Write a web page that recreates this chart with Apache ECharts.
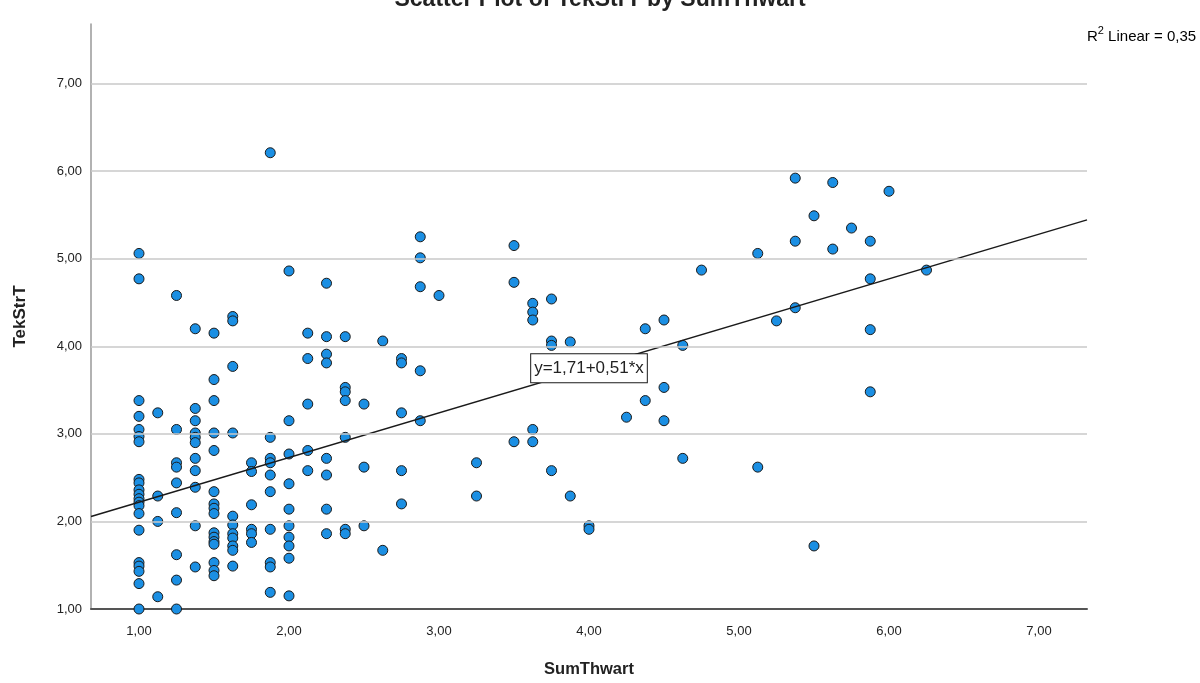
<!DOCTYPE html>
<html>
<head>
<meta charset="utf-8">
<script src="https://cdn.jsdelivr.net/npm/echarts@6/dist/echarts.min.js"></script>
<style>
html,body{margin:0;padding:0;background:#fff;}
#chart{width:1200px;height:683px;}
</style>
</head>
<body>
<div id="chart"></div>
<script>
// SumThwart levels and TekStrT values observed at each level
const sumThwartLevels = [1.00, 1.125, 1.25, 1.375, 1.5, 1.625, 1.75, 1.875, 2.0, 2.125, 2.25, 2.375, 2.5, 2.625, 2.75, 2.875, 3.0, 3.25, 3.5, 3.625, 3.75, 3.875, 4.0, 4.25, 4.375, 4.5, 4.625, 4.75, 5.125, 5.25, 5.375, 5.5, 5.625, 5.75, 5.875, 6.0, 6.25];
const tekStrTByLevel = [
  [5.06, 4.77, 3.38, 3.20, 3.05, 2.97, 2.91, 2.48, 2.44, 2.36, 2.31, 2.26, 2.22, 2.18, 2.09, 1.90, 1.53, 1.49, 1.43, 1.29, 1.00],
  [3.24, 2.29, 2.00, 1.14],
  [4.58, 3.05, 2.67, 2.62, 2.44, 2.10, 1.62, 1.33, 1.00],
  [4.20, 3.29, 3.15, 3.01, 2.96, 2.90, 2.72, 2.58, 2.39, 1.95, 1.48],
  [4.15, 3.62, 3.38, 3.01, 2.81, 2.34, 2.20, 2.15, 2.09, 1.87, 1.82, 1.77, 1.74, 1.53, 1.44, 1.38],
  [4.34, 4.29, 3.77, 3.01, 2.06, 1.96, 1.86, 1.81, 1.72, 1.67, 1.49],
  [2.67, 2.57, 2.19, 1.91, 1.86, 1.76],
  [6.21, 2.96, 2.72, 2.67, 2.53, 2.34, 1.91, 1.53, 1.48, 1.19],
  [4.86, 3.15, 2.77, 2.43, 2.14, 1.95, 1.82, 1.72, 1.58, 1.15],
  [4.15, 3.86, 3.34, 2.81, 2.58],
  [4.72, 4.11, 3.91, 3.81, 2.72, 2.53, 2.14, 1.86],
  [4.11, 3.53, 3.48, 3.38, 2.96, 1.91, 1.86],
  [3.34, 2.62, 1.95],
  [4.06, 1.67],
  [3.86, 3.81, 3.24, 2.58, 2.20],
  [5.25, 5.01, 4.68, 3.72, 3.15],
  [4.58],
  [2.67, 2.29],
  [5.15, 4.73, 2.91],
  [4.49, 4.39, 4.30, 3.05, 2.91],
  [4.54, 4.06, 4.01, 2.58],
  [4.05, 2.29],
  [1.95, 1.91],
  [3.19],
  [4.20, 3.38],
  [4.30, 3.53, 3.15],
  [4.01, 2.72],
  [4.87],
  [5.06, 2.62],
  [4.29],
  [5.92, 5.20, 4.44],
  [5.49, 1.72],
  [5.87, 5.11],
  [5.35],
  [5.20, 4.77, 4.19, 3.48],
  [5.77],
  [4.87]
];
// Fit line coefficients (from the chart's annotation)
const fitIntercept = 1.71;
const fitSlope = 0.51;
const fitLabelX = 4.0;
const rSquared = '0,35';
// Axis ranges and gridline ticks
const xRange = [0.68, 7.32];
const yRange = [1.0, 7.68];
const yGridTicks = [2, 3, 4, 5, 6, 7];

const points = [];
sumThwartLevels.forEach((x, i) => tekStrTByLevel[i].forEach(y => points.push([x, y])));
const fitLine = xRange.map(x => [x, fitIntercept + fitSlope * x]);

const fmt = v => (Math.abs(v - Math.round(v)) < 1e-6) ? v.toFixed(2).replace('.', ',') : '';
const FONT = '"Liberation Sans", Arial, sans-serif';

const chart = echarts.init(document.getElementById('chart'), null, {renderer: 'canvas'});
chart.setOption({
  animation: false,
  backgroundColor: '#ffffff',
  title: {
    text: 'Scatter Plot of TekStrT by SumThwart',
    left: 'center',
    top: -17,
    textStyle: {fontFamily: FONT, fontSize: 23, fontWeight: 'bold', color: '#222'}
  },
  graphic: [{
    type: 'text',
    left: 1087,
    top: 25,
    style: {
      text: '{r|R}{s|2}{r| Linear = }{r|' + rSquared + '}',
      rich: {
        r: {fontFamily: FONT, fontSize: 15, color: '#222', verticalAlign: 'bottom', lineHeight: 19},
        s: {fontFamily: FONT, fontSize: 11, color: '#222', verticalAlign: 'top', lineHeight: 19}
      }
    }
  }],
  grid: {left: 91, right: 113, top: 24, bottom: 73, containLabel: false},
  xAxis: {
    type: 'value',
    min: xRange[0],
    max: xRange[1],
    name: 'SumThwart',
    nameLocation: 'middle',
    nameGap: 52,
    nameTextStyle: {fontFamily: FONT, fontSize: 16.5, fontWeight: 'bold', color: '#222'},
    axisLine: {show: true, lineStyle: {color: '#555', width: 2}},
    axisTick: {show: false},
    splitLine: {show: false},
    axisLabel: {formatter: fmt, fontFamily: FONT, fontSize: 13, color: '#222', margin: 16, showMinLabel: false, showMaxLabel: false}
  },
  yAxis: {
    type: 'value',
    min: yRange[0],
    max: yRange[1],
    interval: 1,
    name: 'TekStrT',
    nameLocation: 'middle',
    nameGap: 62,
    nameTextStyle: {fontFamily: FONT, fontSize: 17, fontWeight: 'bold', color: '#222'},
    axisLine: {show: true, lineStyle: {color: '#999', width: 1.5}},
    axisTick: {show: false},
    splitLine: {show: false},
    axisLabel: {formatter: fmt, fontFamily: FONT, fontSize: 13, color: '#222', margin: 9}
  },
  series: [
    {
      type: 'scatter',
      name: 'grid',
      data: [],
      z: 1,
      silent: true,
      markLine: {
        silent: true,
        symbol: 'none',
        label: {show: false},
        lineStyle: {color: '#c9c9c9', width: 1.5, type: 'solid'},
        data: yGridTicks.map(v => ({yAxis: v}))
      }
    },
    {
      type: 'scatter',
      name: 'TekStrT',
      data: points,
      z: 3,
      symbol: 'circle',
      symbolSize: 10,
      itemStyle: {color: '#1b8fe3', borderColor: '#1a1a1a', borderWidth: 1, opacity: 1}
    },
    {
      type: 'line',
      name: 'fit',
      data: fitLine,
      z: 4,
      symbol: 'none',
      lineStyle: {color: '#1a1a1a', width: 1.5},
      markPoint: {
        symbol: 'circle',
        symbolSize: 0,
        data: [{coord: [fitLabelX, fitIntercept + fitSlope * fitLabelX]}],
        label: {
          show: true,
          position: 'inside',
          formatter: 'y=' + String(fitIntercept).replace('.', ',') + '+' + String(fitSlope).replace('.', ',') + '*x',
          fontFamily: FONT,
          fontSize: 17,
          color: '#222',
          backgroundColor: '#ffffff',
          borderColor: '#1a1a1a',
          borderWidth: 1,
          padding: [6, 3, 5, 3]
        }
      }
    }
  ]
});
</script>
</body>
</html>
